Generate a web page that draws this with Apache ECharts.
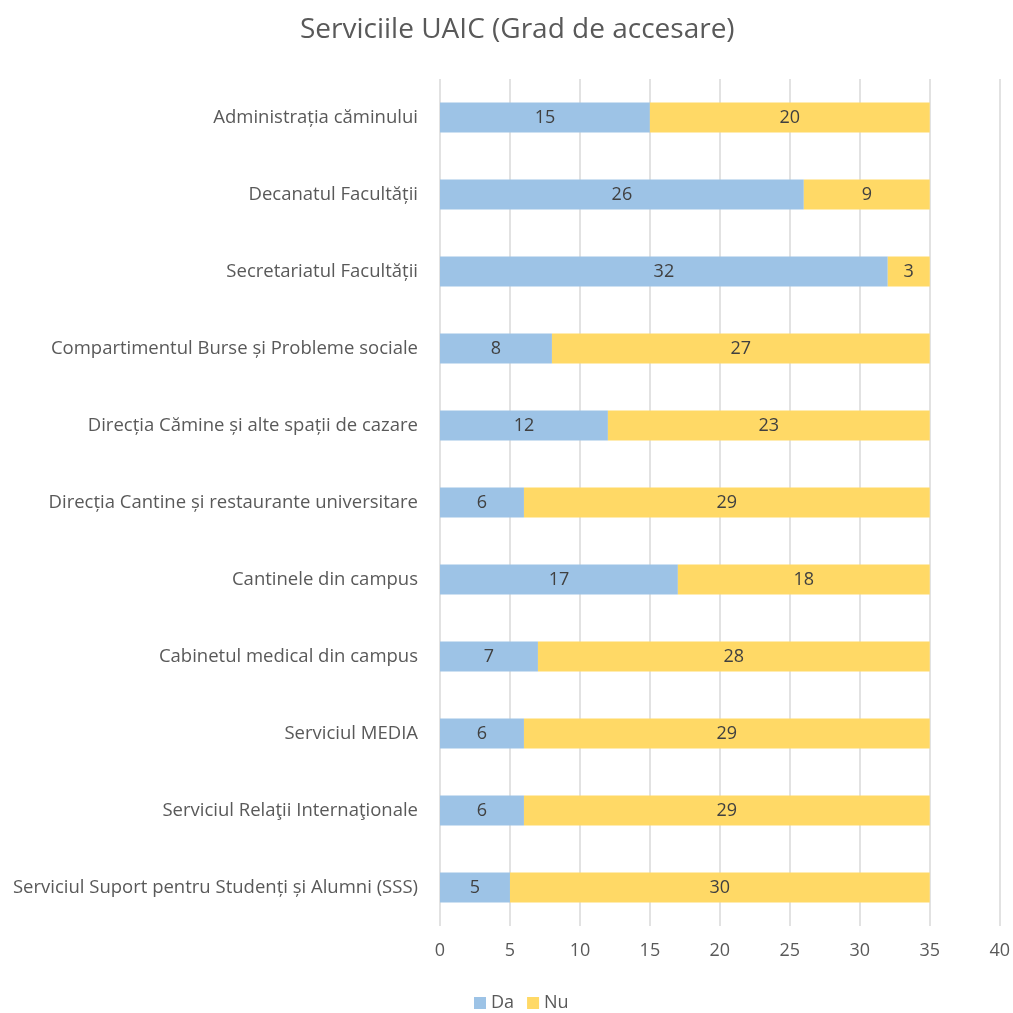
<!DOCTYPE html>
<html>
<head>
<meta charset="utf-8">
<script src="https://cdn.jsdelivr.net/npm/echarts@6/dist/echarts.min.js"></script>
<style>html,body{margin:0;padding:0;background:#fff}#c{width:1013px;height:1013px}</style>
</head>
<body>
<div id="c"></div>
<script>
const categories = [
  "Administrația căminului",
  "Decanatul Facultății",
  "Secretariatul Facultății",
  "Compartimentul Burse și Probleme sociale",
  "Direcția Cămine și alte spații de cazare",
  "Direcția Cantine și restaurante universitare",
  "Cantinele din campus",
  "Cabinetul medical din campus",
  "Serviciul MEDIA",
  "Serviciul Relaţii Internaţionale",
  "Serviciul Suport pentru Studenți și Alumni (SSS)"
];
const daValues = [15, 26, 32, 8, 12, 6, 17, 7, 6, 6, 5];
const nuValues = [20, 9, 3, 27, 23, 29, 18, 28, 29, 29, 30];
const seriesNames = ["Da", "Nu"];
const titleText = "Serviciile UAIC (Grad de accesare)";

const FONT = "'Open Sans', 'Noto Sans', sans-serif";
const chart = echarts.init(document.getElementById('c'));
chart.setOption({
  backgroundColor: '#fff',
  animation: false,
  title: {
    text: titleText, left: 295, top: 11,
    textStyle: { fontFamily: FONT, fontSize: 28, fontWeight: 'normal', color: '#595959' }
  },
  legend: {
    bottom: -4, left: 469, itemWidth: 12, itemHeight: 12, itemGap: 13,
    icon: 'rect',
    textStyle: { fontFamily: FONT, fontSize: 18, color: '#595959' },
    data: seriesNames
  },
  grid: { left: 440, right: 13, top: 79, bottom: 87 },
  xAxis: {
    type: 'value', min: 0, max: 40, interval: 5,
    axisLine: { show: false }, axisTick: { show: false },
    axisLabel: { fontFamily: FONT, fontSize: 18, color: '#595959', margin: 16 },
    splitLine: { show: true, lineStyle: { color: '#d9d9d9', width: 1.5 } }
  },
  yAxis: {
    type: 'category', data: categories, inverse: true,
    axisLine: { show: false }, axisTick: { show: false },
    axisLabel: { fontFamily: FONT, fontSize: 18.5, color: '#595959', margin: 22 }
  },
  series: [
    {
      name: seriesNames[0], type: 'bar', stack: 's', data: daValues, barWidth: 30,
      itemStyle: { color: '#9DC3E6' },
      label: { show: true, position: 'inside', fontFamily: FONT, fontSize: 18, color: '#404040' }
    },
    {
      name: seriesNames[1], type: 'bar', stack: 's', data: nuValues, barWidth: 30,
      itemStyle: { color: '#FFD966' },
      label: { show: true, position: 'inside', fontFamily: FONT, fontSize: 18, color: '#404040' }
    }
  ]
});
</script>
</body>
</html>
